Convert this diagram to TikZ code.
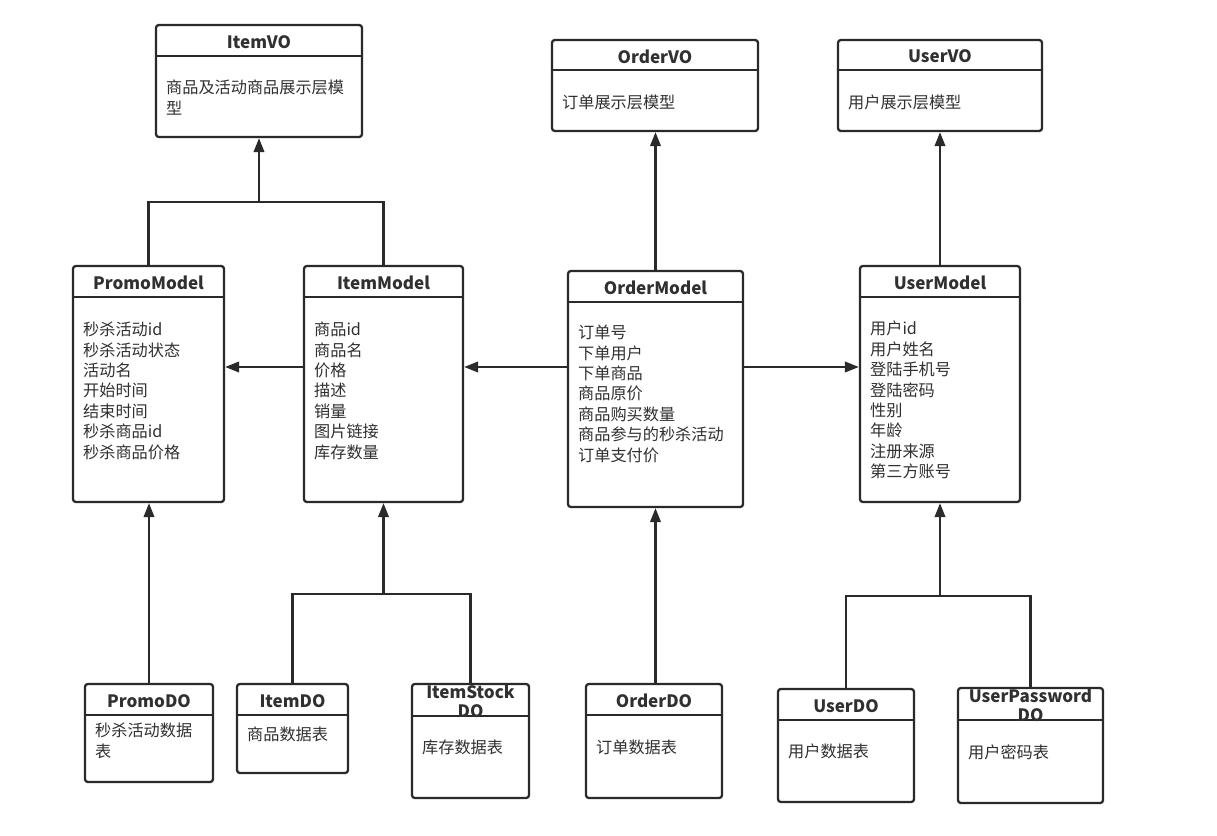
\documentclass[tikz,border=0pt]{standalone}
\usepackage{fontspec}
\setmainfont{Noto Sans CJK SC}
\usetikzlibrary{arrows.meta,calc,fit}
\definecolor{umlink}{HTML}{2A2A2A}
\definecolor{umltext}{HTML}{303030}

% name, x1, y1, x2, y2, header height, title, first line offset, body
\newcommand{\umlclass}[9]{%
  \node[classbox, fit={(#2,#3) (#4,#5)}] (#1) {};
  \draw[classrule] ($(#1.north west)+(0,#6)$) -- ($(#1.north east)+(0,#6)$);
  \node[classtitle] (#1-title) at ($(#1.north)+(0,#6/2+2)$) {#7};
  \node[classbody] (#1-body) at ($(#1.north west)+(11,#8-7)$) {#9};
}

\begin{document}
\begin{tikzpicture}[
  x=0.02cm,
  y=-0.02cm,
  every node/.style={umltext},
  classbox/.style={draw=umlink, line width=1.3pt, rounded corners=1.6pt, inner sep=0pt, fill=white},
  classrule/.style={umlink, line width=1.3pt},
  classtitle/.style={font=\fontsize{9.7}{10.8}\selectfont\bfseries, align=center, inner sep=0pt},
  classbody/.style={font=\fontsize{9.2}{11.6}\selectfont, align=left, anchor=north west, inner sep=0pt},
  link/.style={umlink, line width=1.3pt},
  arrowlink/.style={link, -{Triangle[length=8pt, width=6pt]}}
]
  % ---- page -------------------------------------------------------------
  \useasboundingbox (0,0) rectangle (1217,835);

  % ---- view objects -----------------------------------------------------
  \umlclass{itemvo}{156}{25}{362}{137}{32}{ItemVO}{63}{商品及活动商品展示层模\\型}
  \umlclass{ordervo}{552}{40}{758}{131}{31}{OrderVO}{63}{订单展示层模型}
  \umlclass{uservo}{838}{40}{1042}{131}{31}{UserVO}{63}{用户展示层模型}

  % ---- domain models ----------------------------------------------------
  \umlclass{promomodel}{73}{266}{224}{502}{32}{PromoModel}{64}
    {秒杀活动id\\秒杀活动状态\\活动名\\开始时间\\结束时间\\秒杀商品id\\秒杀商品价格}
  \umlclass{itemmodel}{304}{266}{463}{502}{32}{ItemModel}{64}
    {商品id\\商品名\\价格\\描述\\销量\\图片链接\\库存数量}
  \umlclass{ordermodel}{568}{271}{743}{507}{32}{OrderModel}{62}
    {订单号\\下单用户\\下单商品\\商品原价\\商品购买数量\\商品参与的秒杀活动\\订单支付价}
  \umlclass{usermodel}{860}{266}{1020}{502}{32}{UserModel}{63}
    {用户id\\用户姓名\\登陆手机号\\登陆密码\\性别\\年龄\\注册来源\\第三方账号}

  % ---- data objects -----------------------------------------------------
  \umlclass{promodo}{85}{684}{213}{782}{32}{PromoDO}{47}{秒杀活动数据\\表}
  \umlclass{itemdo}{237}{684}{348}{773}{32}{ItemDO}{51}{商品数据表}
  \umlclass{itemstockdo}{412}{684}{529}{798}{33}{ItemStock\\DO}{64}{库存数据表}
  \umlclass{orderdo}{586}{684}{722}{798}{32}{OrderDO}{64}{订单数据表}
  \umlclass{userdo}{778}{689}{914}{802}{32}{UserDO}{63}{用户数据表}
  \umlclass{userpassworddo}{958}{688}{1103}{803}{33}{UserPassword\\DO}{65}{用户密码表}

  % ---- junctions --------------------------------------------------------
  \coordinate (itemvojoin) at (itemvo.south |- 0,202);
  \coordinate (midrow) at (0,367);
  \coordinate (itemdojoin) at (itemmodel.south |- 0,594);
  \coordinate (userdojoin) at (usermodel.south |- 0,596);

  % ---- models to view objects -------------------------------------------
  \draw[link] (promomodel.north) |- (itemvojoin) -| (itemmodel.north);
  \draw[arrowlink] (itemvojoin) -- (itemvo.south);
  \draw[arrowlink] (ordermodel.north) -- (ordermodel.north |- ordervo.south);
  \draw[arrowlink] (usermodel.north) -- (uservo.south);

  % ---- model to model ---------------------------------------------------
  \draw[arrowlink] (itemmodel.west |- midrow) -- (promomodel.east |- midrow);
  \draw[arrowlink] (ordermodel.west |- midrow) -- (itemmodel.east |- midrow);
  \draw[arrowlink] (ordermodel.east |- midrow) -- (usermodel.west |- midrow);

  % ---- data objects to models -------------------------------------------
  \draw[arrowlink] (promodo.north) -- (promodo.north |- promomodel.south);
  \draw[link] (itemdo.north) |- (itemdojoin) -| (itemstockdo.north);
  \draw[arrowlink] (itemdojoin) -- (itemmodel.south);
  \draw[arrowlink] (ordermodel.south |- orderdo.north) -- (ordermodel.south);
  \draw[link] (userdo.north) |- (userdojoin) -| (userpassworddo.north);
  \draw[arrowlink] (userdojoin) -- (usermodel.south);
\end{tikzpicture}
\end{document}
